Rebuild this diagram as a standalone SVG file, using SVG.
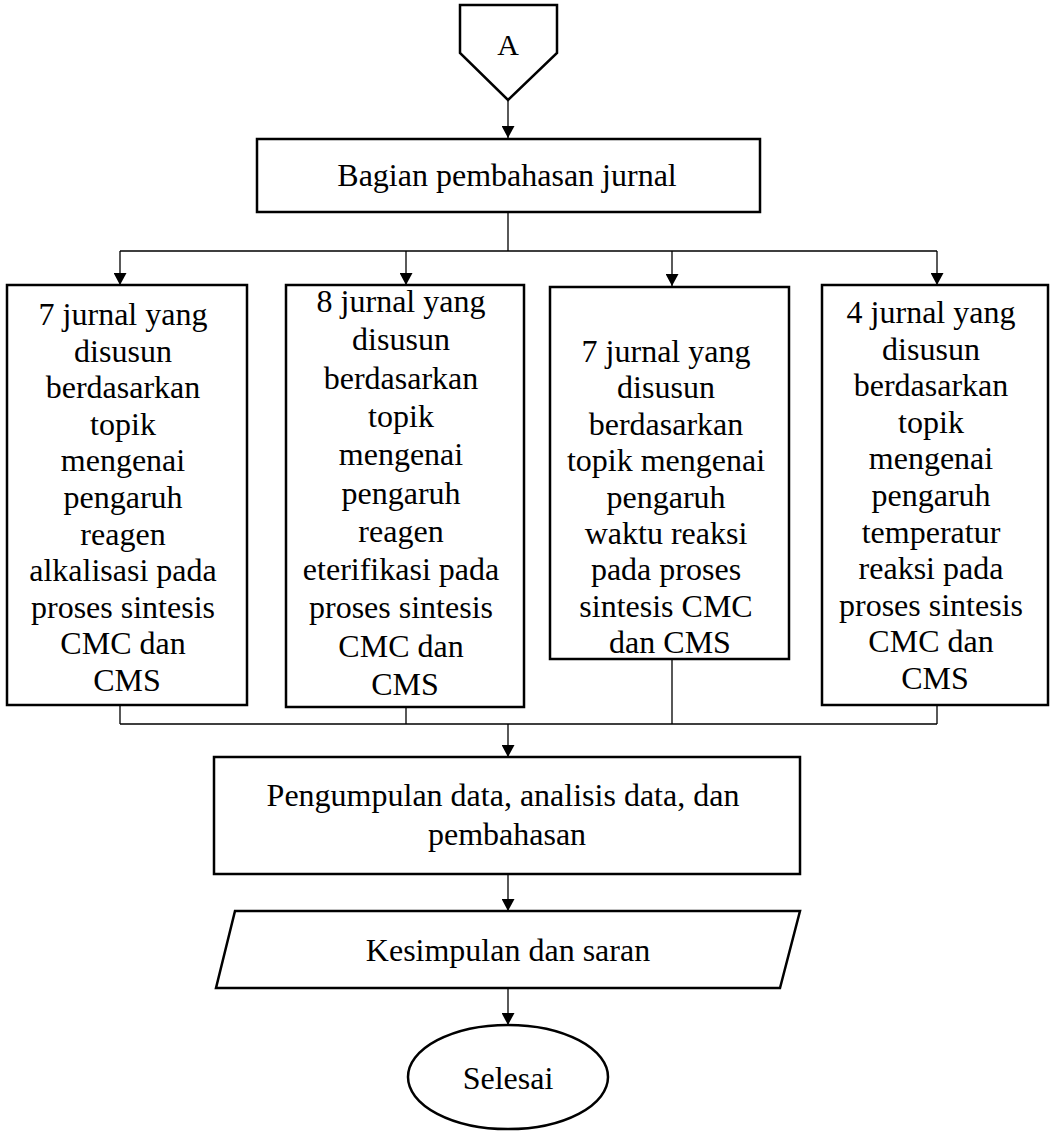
<svg xmlns="http://www.w3.org/2000/svg" width="1052" height="1131" viewBox="0 0 1052 1131">
<style>
.n{fill:#fff;stroke:#000;stroke-width:2.5}
.t{font-family:"Liberation Serif","Times New Roman",serif;font-size:32px;fill:#000;text-anchor:middle}
.c{fill:none;stroke:#000;stroke-width:1.3}
.a{fill:none;stroke:#000;stroke-width:1.3;marker-end:url(#ah)}
</style>
<defs>
<marker id="ah" markerWidth="14" markerHeight="13" refX="13" refY="7" orient="auto" markerUnits="userSpaceOnUse" viewBox="0 0 13 14">
<path d="M0,0 L13,7 L0,14 Z" fill="#000"/>
</marker>
</defs>
<rect width="1052" height="1131" fill="#fff"/>
<g id="connectors">
<path class="a" d="M508,100 V138"/>
<path class="c" d="M508,212 V251 M120,251 H937"/>
<path class="a" d="M120,251 V285"/>
<path class="a" d="M406,251 V285"/>
<path class="a" d="M672,251 V286"/>
<path class="a" d="M937,251 V285"/>
<path class="c" d="M120,705 V724 M406,707 V724 M672,659 V724 M937,705 V724 M120,724 H937"/>
<path class="a" d="M508,724 V757"/>
<path class="a" d="M508,874 V911"/>
<path class="a" d="M508,988 V1025"/>
</g>
<g id="nodeA">
<polygon class="n" points="460,5 557,5 557,53 508,100 460,53"/>
<text class="t" x="508" y="55" style="font-size:30px">A</text>
</g>
<g id="nodeBagian">
<rect class="n" x="257" y="139" width="503" height="73"/>
<text class="t" x="507" y="186">Bagian pembahasan jurnal</text>
</g>
<g id="node1">
<rect class="n" x="7" y="285" width="240" height="420"/>
<text class="t" x="127" y="325">
<tspan x="127">7 jurnal yang</tspan>
<tspan x="127" dy="36.6">disusun</tspan>
<tspan x="127" dy="36.6">berdasarkan</tspan>
<tspan x="127" dy="36.6">topik</tspan>
<tspan x="127" dy="36.6">mengenai</tspan>
<tspan x="127" dy="36.6">pengaruh</tspan>
<tspan x="127" dy="36.6">reagen</tspan>
<tspan x="127" dy="36.6">alkalisasi pada</tspan>
<tspan x="127" dy="36.6">proses sintesis</tspan>
<tspan x="127" dy="36.6">CMC dan</tspan>
<tspan x="127" dy="36.6">CMS</tspan>
</text>
</g>
<g id="node2">
<rect class="n" x="286" y="285" width="238" height="422"/>
<text class="t" x="405" y="312">
<tspan x="405">8 jurnal yang</tspan>
<tspan x="405" dy="38.3">disusun</tspan>
<tspan x="405" dy="38.3">berdasarkan</tspan>
<tspan x="405" dy="38.3">topik</tspan>
<tspan x="405" dy="38.3">mengenai</tspan>
<tspan x="405" dy="38.3">pengaruh</tspan>
<tspan x="405" dy="38.3">reagen</tspan>
<tspan x="405" dy="38.3">eterifikasi pada</tspan>
<tspan x="405" dy="38.3">proses sintesis</tspan>
<tspan x="405" dy="38.3">CMC dan</tspan>
<tspan x="405" dy="38.3">CMS</tspan>
</text>
</g>
<g id="node3">
<rect class="n" x="550" y="287" width="239" height="372"/>
<text class="t" x="670" y="362">
<tspan x="670">7 jurnal yang</tspan>
<tspan x="670" dy="36.4">disusun</tspan>
<tspan x="670" dy="36.4">berdasarkan</tspan>
<tspan x="670" dy="36.4">topik mengenai</tspan>
<tspan x="670" dy="36.4">pengaruh</tspan>
<tspan x="670" dy="36.4">waktu reaksi</tspan>
<tspan x="670" dy="36.4">pada proses</tspan>
<tspan x="670" dy="36.4">sintesis CMC</tspan>
<tspan x="670" dy="36.4">dan CMS</tspan>
</text>
</g>
<g id="node4">
<rect class="n" x="822" y="285" width="226" height="420"/>
<text class="t" x="935" y="323">
<tspan x="935">4 jurnal yang</tspan>
<tspan x="935" dy="36.6">disusun</tspan>
<tspan x="935" dy="36.6">berdasarkan</tspan>
<tspan x="935" dy="36.6">topik</tspan>
<tspan x="935" dy="36.6">mengenai</tspan>
<tspan x="935" dy="36.6">pengaruh</tspan>
<tspan x="935" dy="36.6">temperatur</tspan>
<tspan x="935" dy="36.6">reaksi pada</tspan>
<tspan x="935" dy="36.6">proses sintesis</tspan>
<tspan x="935" dy="36.6">CMC dan</tspan>
<tspan x="935" dy="36.6">CMS</tspan>
</text>
</g>
<g id="nodePengumpulan">
<rect class="n" x="214" y="757" width="586" height="117"/>
<text class="t" x="507" y="806">
<tspan x="507">Pengumpulan data, analisis data, dan</tspan>
<tspan x="507" dy="39">pembahasan</tspan>
</text>
</g>
<g id="nodeKesimpulan">
<polygon class="n" points="235,911 800,911 780,988 216,988"/>
<text class="t" x="508" y="961">Kesimpulan dan saran</text>
</g>
<g id="nodeSelesai">
<ellipse class="n" cx="508" cy="1077" rx="100" ry="52"/>
<text class="t" x="508" y="1089">Selesai</text>
</g>
</svg>
